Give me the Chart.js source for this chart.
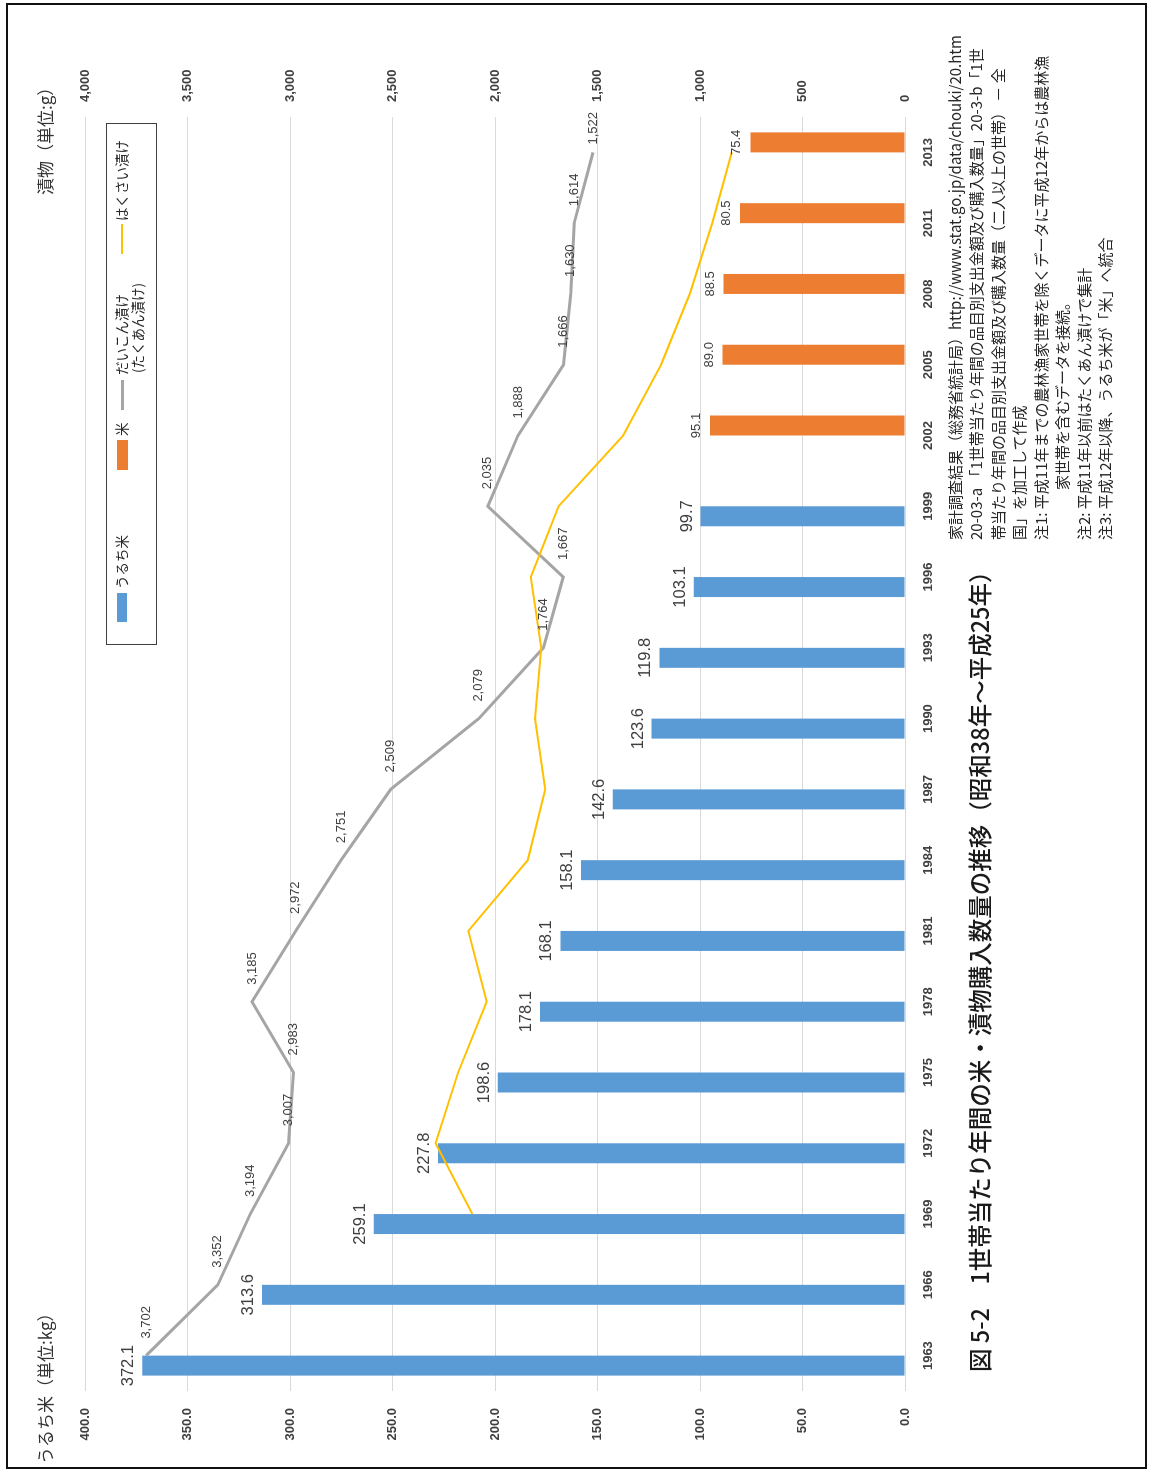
<!DOCTYPE html>
<html lang="ja">
<head>
<meta charset="utf-8">
<title>1世帯当たり年間の米・漬物購入数量の推移</title>
<script src="https://cdn.jsdelivr.net/npm/chart.js@4.4.1/dist/chart.umd.min.js"></script>
<style>
  html, body { margin: 0; padding: 0; background: #fff; }
  body {
    width: 1149px; height: 1472px; position: relative; overflow: hidden;
    font-family: "Noto Sans CJK JP", sans-serif; color: #262626;
  }
  .frame {
    position: absolute; left: 6px; top: 3px; width: 1141px; height: 1466px;
    border: 2px solid #111; box-sizing: border-box;
  }
  /* the sheet is laid out landscape and turned a quarter to the left */
  #sheet {
    position: absolute; left: 0; top: 0; width: 1472px; height: 1149px;
    transform-origin: 0 0; transform: translate(0, 1472px) rotate(-90deg);
  }
  #sheet canvas { position: absolute; left: 0; top: 0; }
  .txt { position: absolute; white-space: pre; line-height: 1; }
  .title { left: 100px; top: 968px; font-size: 23.5px; font-weight: 500; color: #1a1a1a; }
  .axis-title { top: 35.5px; font-size: 17px; color: #333; }
  .note { left: 932px; font-size: 15px; color: #262626; }
  .legend {
    position: absolute; left: 827px; top: 106px; width: 522px; height: 51px;
    border: 1px solid #404040; box-sizing: border-box;
  }
  .lg { font-size: 13.5px; color: #262626; }
  .mark { position: absolute; }
</style>
</head>
<body>
<div class="frame"></div>
<div id="sheet">
  <canvas id="chart" width="1472" height="1149"></canvas>

  <div class="txt axis-title" style="left:8px">うるち米（単位:kg）</div>
  <div class="txt axis-title" style="left:1277px">漬物（単位:g）</div>

  <div class="legend"></div>
  <div class="mark" style="left:850px; top:117px; width:29px; height:10px; background:#5B9BD5"></div>
  <div class="txt lg" style="left:883px; top:114.5px">うるち米</div>
  <div class="mark" style="left:1002px; top:117px; width:30px; height:11px; background:#ED7D31"></div>
  <div class="txt lg" style="left:1036px; top:114.5px">米</div>
  <div class="mark" style="left:1062px; top:121px; width:30px; height:3px; background:#A5A5A5"></div>
  <div class="txt lg" style="left:1097px; top:114.5px">だいこん漬け</div>
  <div class="txt lg" style="left:1099px; top:130.5px">(たくあん漬け)</div>
  <div class="mark" style="left:1218px; top:121px; width:30px; height:2px; background:#FFC000"></div>
  <div class="txt lg" style="left:1251px; top:114.5px">はくさい漬け</div>

  <div class="txt title">図 5-2　1世帯当たり年間の米・漬物購入数量の推移（昭和38年～平成25年）</div>

  <div class="txt note" style="top:946.5px">家計調査結果（総務省統計局）http://www.stat.go.jp/data/chouki/20.htm</div>
  <div class="txt note" style="top:968px">20-03-a 「1世帯当たり年間の品目別支出金額及び購入数量」20-3-b「1世</div>
  <div class="txt note" style="top:989.5px">帯当たり年間の品目別支出金額及び購入数量（二人以上の世帯） － 全</div>
  <div class="txt note" style="top:1011px">国」を加工して作成</div>
  <div class="txt note" style="top:1032.5px">注1: 平成11年までの農林漁家世帯を除くデータに平成12年からは農林漁</div>
  <div class="txt note" style="top:1054px; left:982px">家世帯を含むデータを接続。</div>
  <div class="txt note" style="top:1075.5px">注2: 平成11年以前はたくあん漬けで集計</div>
  <div class="txt note" style="top:1097px">注3: 平成12年以降、うるち米が「米」へ統合</div>
</div>

<script>
const years = ['1963', '1966', '1969', '1972', '1975', '1978', '1981', '1984', '1987',
  '1990', '1993', '1996', '1999', '2002', '2005', '2008', '2011', '2013'];

// kg per household per year
const uruchimai = [372.1, 313.6, 259.1, 227.8, 198.6, 178.1, 168.1, 158.1, 142.6,
  123.6, 119.8, 103.1, 99.7, null, null, null, null, null];
const kome = [null, null, null, null, null, null, null, null, null,
  null, null, null, null, 95.1, 89.0, 88.5, 80.5, 75.4];

// g per household per year
const daikon = [3702, 3352, 3194, 3007, 2983, 3185, 2972, 2751, 2509,
  2079, 1764, 1667, 2035, 1888, 1666, 1630, 1614, 1522];
const hakusai = [null, null, 2110, 2290, 2180, 2040, 2130, 1840, 1755,
  1805, 1775, 1825, 1690, 1375, 1190, 1050, 940, 845];

const kgTicks = { min: 0, max: 400, step: 50 };
const gTicks = { min: 0, max: 4000, step: 500 };

Chart.defaults.font.family = '"Liberation Sans", Arial, sans-serif';
Chart.defaults.color = '#404040';

// value labels: above the bars, to the right of the line points
const dataLabels = {
  id: 'dataLabels',
  afterDatasetsDraw(chart) {
    const { ctx, chartArea } = chart;
    chart.data.datasets.forEach((ds, i) => {
      const style = ds.valueLabel;
      if (!style) return;
      const meta = chart.getDatasetMeta(i);
      ctx.save();
      ctx.font = style.font;
      ctx.fillStyle = style.color;
      meta.data.forEach((el, j) => {
        const v = ds.data[j];
        if (v == null) return;
        const text = style.format(v);
        if (style.side === 'right') {
          const w = ctx.measureText(text).width;
          let x = el.x + style.gap;
          if (x + w > chartArea.right + 5) x = chartArea.right + 5 - w;
          ctx.textAlign = 'left';
          ctx.textBaseline = 'middle';
          ctx.fillText(text, x, el.y);
        } else {
          ctx.textAlign = 'center';
          ctx.textBaseline = 'alphabetic';
          ctx.fillText(text, el.x, el.y - style.gap);
        }
      });
      ctx.restore();
    });
  }
};

const oneDecimal = v => v.toFixed(1);
const thousands = v => v.toLocaleString('en-US');

new Chart(document.getElementById('chart'), {
  type: 'bar',
  data: {
    labels: years,
    datasets: [
      {
        label: 'うるち米',
        data: uruchimai,
        backgroundColor: '#5B9BD5',
        yAxisID: 'y',
        order: 2,
        valueLabel: { font: '16.5px "Liberation Sans"', color: '#404040', gap: 9, format: oneDecimal }
      },
      {
        label: '米',
        data: kome,
        backgroundColor: '#ED7D31',
        yAxisID: 'y',
        order: 2,
        valueLabel: { font: '13px "Liberation Sans"', color: '#404040', gap: 10, format: oneDecimal }
      },
      {
        type: 'line',
        label: 'だいこん漬け（たくあん漬け）',
        data: daikon,
        borderColor: '#A5A5A5',
        borderWidth: 3,
        pointRadius: 0,
        tension: 0,
        yAxisID: 'y2',
        order: 1,
        valueLabel: { font: '13px "Liberation Sans"', color: '#404040', gap: 17, side: 'right', format: thousands }
      },
      {
        type: 'line',
        label: 'はくさい漬け',
        data: hakusai,
        borderColor: '#FFC000',
        borderWidth: 2,
        pointRadius: 0,
        tension: 0,
        yAxisID: 'y2',
        order: 0
      }
    ]
  },
  options: {
    responsive: false,
    animation: false,
    events: [],
    datasets: {
      bar: { categoryPercentage: 0.565, barPercentage: 1.0 }
    },
    layout: { padding: { top: 85, left: 0, right: 0, bottom: 0 } },
    plugins: {
      legend: { display: false },
      tooltip: { enabled: false }
    },
    scales: {
      x: {
        offset: true,
        grid: { display: false },
        border: { display: false },
        ticks: {
          autoSkip: false, maxRotation: 0, padding: 8,
          font: { size: 13, weight: 'bold' }, color: '#404040'
        },
        afterFit(scale) { scale.height = 244; }
      },
      y: {
        position: 'left',
        min: kgTicks.min, max: kgTicks.max,
        grid: { color: '#D9D9D9', lineWidth: 1, drawTicks: false },
        border: { display: false },
        ticks: {
          stepSize: kgTicks.step, padding: 17,
          font: { size: 13, weight: 'bold' }, color: '#404040',
          callback: v => oneDecimal(v)
        },
        afterFit(scale) { scale.width = 81; }
      },
      y2: {
        position: 'right',
        min: gTicks.min, max: gTicks.max,
        grid: { drawOnChartArea: false, drawTicks: false },
        border: { display: false },
        ticks: {
          stepSize: gTicks.step, padding: 15,
          font: { size: 13, weight: 'bold' }, color: '#404040',
          callback: v => thousands(v)
        },
        afterFit(scale) { scale.width = 117; }
      }
    }
  },
  plugins: [dataLabels]
});
</script>
</body>
</html>
